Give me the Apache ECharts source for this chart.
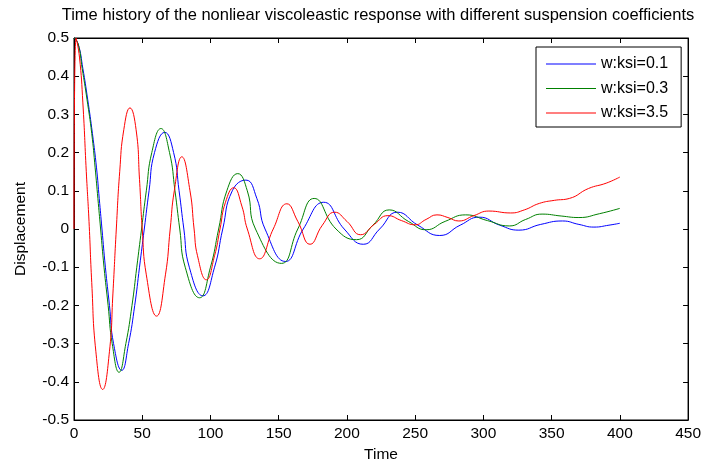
<!DOCTYPE html>
<html>
<head>
<meta charset="utf-8">
<script src="https://cdn.jsdelivr.net/npm/echarts@6/dist/echarts.min.js"></script>
<style>
html,body{margin:0;padding:0;background:#fff;}
#chart{width:704px;height:468px;}
</style>
</head>
<body>
<div id="chart"></div>
<script>
// Displacement time histories, [time, displacement]
const seriesNames = ['w:ksi=0.1', 'w:ksi=0.3', 'w:ksi=3.5'];
const seriesColors = ['#0000ff', '#008000', '#ff0000'];

const ksi01 = [[0,0.5],[3,0.485],[6.5,0.42],[10,0.34],[13.5,0.25],[16.5,0.16],[18.5,0.08],[20.5,0],[23,-0.10],[26,-0.20],[29,-0.30],[35,-0.37],[40,-0.30],[44.5,-0.20],[48,-0.10],[51.5,0],[55,0.10],[59,0.20],[66.5,0.253],[73,0.20],[77,0.10],[80.5,0],[84.5,-0.10],[94.5,-0.175],[103,-0.10],[109,0],[116,0.10],[126,0.128],[134,0.08],[140,0],[155,-0.085],[168,0],[183,0.07],[198,0],[212,-0.04],[224,0],[237,0.044],[252,0.01],[268,-0.017],[283,0.01],[297,0.031],[312,0.01],[326,-0.003],[342,0.012],[358,0.021],[370,0.012],[381,0.005],[392,0.01],[400,0.015]];

const ksi03 = [[0,0.5],[3,0.485],[6,0.42],[9.5,0.34],[13,0.25],[15.5,0.16],[17.5,0.08],[19.5,0],[22,-0.10],[25,-0.20],[28,-0.30],[33,-0.375],[38,-0.30],[42.5,-0.20],[46,-0.10],[49.5,0],[53,0.10],[57,0.20],[63.7,0.263],[70,0.20],[74,0.10],[77.5,0],[81.5,-0.10],[92,-0.18],[100,-0.10],[106,0],[112,0.10],[120,0.145],[127,0.10],[133,0],[152,-0.09],[164,0],[176,0.08],[192,0],[207,-0.028],[219,0.01],[231,0.05],[245,0.02],[258,-0.002],[272,0.02],[287,0.037],[303,0.022],[319,0.008],[331,0.025],[343,0.039],[357,0.034],[370,0.03],[385,0.04],[400,0.054]];

const ksi35 = [[0,0],[1.5,0.5],[4,0.45],[6.5,0.33],[9,0.15],[11,0.02],[13,-0.14],[16,-0.32],[21,-0.42],[26,-0.32],[28.5,-0.17],[31,0],[33.5,0.15],[36.5,0.26],[41,0.317],[45.5,0.26],[48,0.13],[50,0],[53,-0.12],[60.5,-0.228],[67,-0.12],[70.5,0],[73.5,0.1],[79,0.189],[85,0.1],[88,0],[90.5,-0.07],[97,-0.133],[103,-0.07],[107,0],[111,0.07],[117,0.108],[123,0.06],[127,0],[136,-0.078],[146,0],[156,0.066],[164,0.02],[173,-0.04],[182,0.01],[191,0.044],[200,0.02],[210,-0.015],[220,0.012],[230,0.035],[240,0.022],[250,0.011],[258,0.025],[266,0.037],[274,0.03],[282,0.021],[293,0.035],[304,0.047],[320,0.042],[330,0.05],[341,0.067],[352,0.075],[363,0.08],[377,0.106],[390,0.12],[400,0.136]];

const xTicks = {min: 0, max: 450, interval: 50};
const yTicks = {min: -0.5, max: 0.5, interval: 0.1};

const font = 'Liberation Sans, Arial, Helvetica, sans-serif';
const chart = echarts.init(document.getElementById('chart'), null, {renderer: 'canvas'});

const axisLine = {show: true, onZero: false, lineStyle: {color: '#000', width: 1}};
const tickIn = {show: true, inside: true, length: 5, lineStyle: {color: '#000', width: 1}};

const makeSeries = (name, data, color) => ({
  name, type: 'line', data, symbol: 'none', smooth: 0.5,
  lineStyle: {color, width: 1}, itemStyle: {color}, xAxisIndex: 0, yAxisIndex: 0
});

chart.setOption({
  animation: false,
  backgroundColor: '#fff',
  title: {
    text: 'Time history of the nonliear viscoleastic response with different suspension coefficients',
    left: 373, top: 2, textAlign: 'center',
    textStyle: {fontFamily: font, fontSize: 16.5, fontWeight: 'normal', color: '#000'}
  },
  grid: {left: 74, right: 15, top: 38, bottom: 44, show: true, borderColor: '#000', borderWidth: 1},
  legend: {
    orient: 'vertical', left: 536, top: 47, data: seriesNames,
    icon: 'rect', itemWidth: 50, itemHeight: 1, itemGap: 8.5, padding: [9, 13, 6, 10],
    borderColor: '#000', borderWidth: 1, backgroundColor: '#fff',
    textStyle: {fontFamily: font, fontSize: 16, color: '#000'}
  },
  xAxis: [
    {type: 'value', min: xTicks.min, max: xTicks.max, interval: xTicks.interval,
     name: 'Time', nameLocation: 'middle', nameGap: 27,
     nameTextStyle: {fontFamily: font, fontSize: 15.5, color: '#000'},
     axisLine, axisTick: tickIn, splitLine: {show: false},
     axisLabel: {fontFamily: font, fontSize: 15.5, color: '#000', margin: 6}},
    {type: 'value', position: 'top', min: xTicks.min, max: xTicks.max, interval: xTicks.interval,
     axisLine, axisTick: tickIn, splitLine: {show: false}, axisLabel: {show: false}}
  ],
  yAxis: [
    {type: 'value', min: yTicks.min, max: yTicks.max, interval: yTicks.interval,
     name: 'Displacement', nameLocation: 'middle', nameGap: 45, nameRotate: 90,
     nameTextStyle: {fontFamily: font, fontSize: 15.5, color: '#000'},
     axisLine, axisTick: tickIn, splitLine: {show: false},
     axisLabel: {fontFamily: font, fontSize: 15.5, color: '#000', margin: 5,
       formatter: v => String(Math.round(v * 10) / 10)}},
    {type: 'value', position: 'right', min: yTicks.min, max: yTicks.max, interval: yTicks.interval,
     axisLine, axisTick: tickIn, splitLine: {show: false}, axisLabel: {show: false}}
  ],
  series: [
    makeSeries(seriesNames[0], ksi01, seriesColors[0]),
    makeSeries(seriesNames[1], ksi03, seriesColors[1]),
    makeSeries(seriesNames[2], ksi35, seriesColors[2])
  ]
});
</script>
</body>
</html>
